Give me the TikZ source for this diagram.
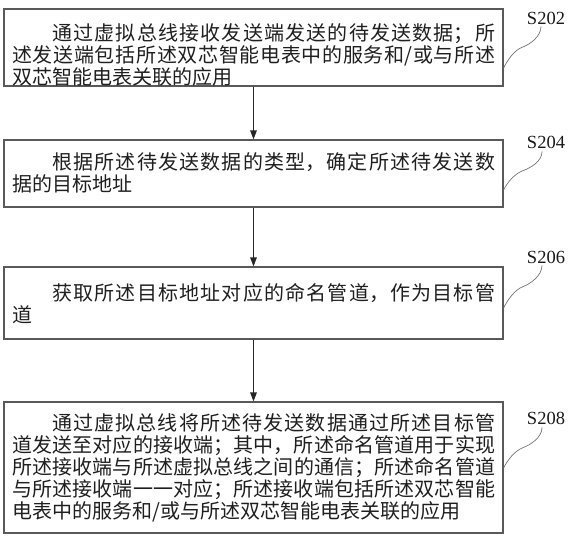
\documentclass[tikz,border=0pt]{standalone}
\usepackage{fontspec}
\setmainfont{Liberation Serif}
\newfontfamily\cjk{Noto Sans CJK SC}
\usetikzlibrary{arrows.meta,calc}
\XeTeXlinebreaklocale "zh"
\XeTeXlinebreakskip=0pt plus 6pt
\XeTeXlinebreakpenalty=10000
\tikzset{
  stepbox/.style={draw=black!65, line width=1.1pt, inner sep=0pt, minimum width=499pt},
  txt/.style={anchor=north west, inner sep=0pt, text width=483pt, align=justify,
    font=\cjk\fontsize{20}{22}\selectfont, text=black!88},
  lab/.style={inner sep=0pt, font=\fontsize{18.5}{20}\selectfont, text=black!90},
  arr/.style={draw=black!85, line width=1.1pt, -{Triangle[length=9pt,width=6.5pt]}},
  leader/.style={draw=black!55, line width=0.7pt}
}
\begin{document}
\begin{tikzpicture}[x=1pt,y=-1pt]
\useasboundingbox (0,0) rectangle (572,541);
% boxes
\node[stepbox, minimum height=77pt] (b1) at (253.5,47.5) {};
\node[stepbox, minimum height=67pt] (b2) at (253.5,173.5) {};
\node[stepbox, minimum height=72pt] (b3) at (253.5,303) {};
\node[stepbox, minimum height=131pt] (b4) at (253.5,467.5) {};
% texts
\node[txt] (t1) at (12,23) {\noindent\hspace*{2em}通过虚拟总线接收发送端发送的待发送数据；所\linebreak 述发送端包括所述双芯智能电表中的服务和/或与所述\linebreak 双芯智能电表关联的应用};
\node[txt] (t2) at (12,152.5) {\noindent\hspace*{2em}根据所述待发送数据的类型，确定所述待发送数\linebreak 据的目标地址};
\node[txt] (t3) at (12,283) {\noindent\hspace*{2em}获取所述目标地址对应的命名管道，作为目标管\linebreak 道};
\node[txt] (t4) at (12,413) {\noindent\hspace*{2em}通过虚拟总线将所述待发送数据通过所述目标管\linebreak 道发送至对应的接收端；其中，所述命名管道用于实现\linebreak 所述接收端与所述虚拟总线之间的通信；所述命名管道\linebreak 与所述接收端一一对应；所述接收端包括所述双芯智能\linebreak 电表中的服务和/或与所述双芯智能电表关联的应用};
% labels
\node[lab] (l1) at (546,18) {S202};
\node[lab] (l2) at (546,142) {S204};
\node[lab] (l3) at (546,257) {S206};
\node[lab] (l4) at (546,418) {S208};
% leader ends
\coordinate (s1) at ($(l1.south)+(-5,2)$);
\coordinate (s2) at ($(l2.south)+(-4,3)$);
\coordinate (s3) at ($(l3.south)+(-4,2)$);
\coordinate (s4) at ($(l4.south)+(-4,3)$);
\coordinate (e1) at ($(b1.east)+(0,20.5)$);
\coordinate (e2) at ($(b2.east)+(0,16.5)$);
\coordinate (e3) at ($(b3.east)+(0,5)$);
\coordinate (e4) at ($(b4.east)+(0,0.5)$);
\foreach \i in {1,2,3,4}{
  \draw[leader] (s\i) .. controls +(0,10) and +(8,-3) .. ($(s\i)!0.5!(e\i)$)
                      .. controls +(-8,3) and +(4,-8) .. (e\i);
}
% arrows
\draw[arr] (b1.south) -- (b2.north);
\draw[arr] (b2.south) -- (b3.north);
\draw[arr] (b3.south) -- (b4.north);
\end{tikzpicture}
\end{document}
